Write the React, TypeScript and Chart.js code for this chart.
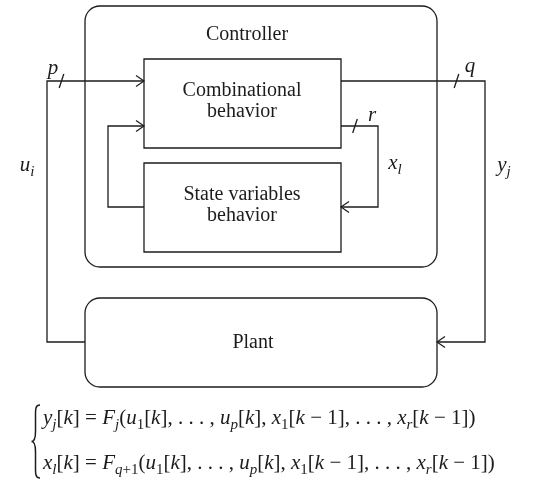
import React, { useEffect, useRef } from "react";
import { Chart, registerables } from "chart.js";

Chart.register(...registerables);

const W = 543;
const H = 481;
const INK = "#1c1c1c";
const FONT = "'Liberation Serif', 'DejaVu Serif', serif";

// Blocks
const boxNames = ["Controller", "Combinational behavior", "State variables behavior", "Plant"];
const boxX0 = [85, 144, 144, 85];
const boxY0 = [6, 59, 163, 298];
const boxX1 = [437, 341, 341, 437];
const boxY1 = [267, 148, 252, 387];
const boxRadius = [15, 0, 0, 15];
const boxLines = [["Controller"], ["Combinational", "behavior"], ["State variables", "behavior"], ["Plant"]];
const boxLabelX = [247, 242, 242, 253];
const boxLabelY = [35, 91, 195, 343];

// Signal wires (polyline vertices), arrow at the end
const wireU = [{ x: 85, y: 342 }, { x: 47, y: 342 }, { x: 47, y: 81 }, { x: 144, y: 81 }];
const wireY = [{ x: 341, y: 81 }, { x: 485, y: 81 }, { x: 485, y: 342 }, { x: 437, y: 342 }];
const wireX = [{ x: 341, y: 126 }, { x: 378, y: 126 }, { x: 378, y: 207 }, { x: 341, y: 207 }];
const wireFb = [{ x: 144, y: 207 }, { x: 108, y: 207 }, { x: 108, y: 126 }, { x: 144, y: 126 }];
const wires = [wireU, wireY, wireX, wireFb];

// Bus width slashes
const slashX = [61.5, 456.5, 355];
const slashY = [81, 81, 126];

// Signal labels: main + subscript
const sigMain = ["p", "q", "r", "x", "u", "y"];
const sigSub = ["", "", "", "l", "i", "j"];
const sigX = [53, 470, 372, 395, 27, 504];
const sigY = [69, 67, 116, 164, 166, 166];

// Equations as runs: r = roman, i = italic, s = italic subscript, t = roman subscript
type Run = [string, string];
const eq1: Run[] = [
  ["y", "i"], ["j", "s"], ["[", "r"], ["k", "i"], ["] = ", "r"], ["F", "i"], ["j", "s"], ["(", "r"],
  ["u", "i"], ["1", "t"], ["[", "r"], ["k", "i"], ["], . . . , ", "r"],
  ["u", "i"], ["p", "s"], ["[", "r"], ["k", "i"], ["], ", "r"],
  ["x", "i"], ["1", "t"], ["[", "r"], ["k", "i"], [" \u2212 1], . . . , ", "r"],
  ["x", "i"], ["r", "s"], ["[", "r"], ["k", "i"], [" \u2212 1])", "r"],
];
const eq2: Run[] = [
  ["x", "i"], ["l", "s"], ["[", "r"], ["k", "i"], ["] = ", "r"], ["F", "i"], ["q", "s"], ["+1", "t"], ["(", "r"],
  ["u", "i"], ["1", "t"], ["[", "r"], ["k", "i"], ["], . . . , ", "r"],
  ["u", "i"], ["p", "s"], ["[", "r"], ["k", "i"], ["], ", "r"],
  ["x", "i"], ["1", "t"], ["[", "r"], ["k", "i"], [" \u2212 1], . . . , ", "r"],
  ["x", "i"], ["r", "s"], ["[", "r"], ["k", "i"], [" \u2212 1])", "r"],
];
const equations = [eq1, eq2];
const eqX = [43, 43];
const eqY = [418, 463];

function runFont(kind: string, size: number) {
  const sub = kind === "s" || kind === "t";
  const it = kind === "i" || kind === "s";
  return `${it ? "italic " : ""}${sub ? Math.round(size * 0.72) : size}px ${FONT}`;
}

function drawRuns(ctx: CanvasRenderingContext2D, runs: Run[], x: number, y: number, size: number) {
  let cx = x;
  ctx.textAlign = "left";
  ctx.textBaseline = "alphabetic";
  for (const [t, k] of runs) {
    ctx.font = runFont(k, size);
    const dy = k === "s" || k === "t" ? size * 0.22 : 0;
    ctx.fillText(t, cx, y + dy);
    cx += ctx.measureText(t).width;
  }
}

const diagramPlugin = {
  id: "diagram",
  afterDatasetsDraw(chart: any) {
    const ctx: CanvasRenderingContext2D = chart.ctx;
    const xs = chart.scales.x;
    const ys = chart.scales.y;
    const px = (v: number) => xs.getPixelForValue(v);
    const py = (v: number) => ys.getPixelForValue(v);
    ctx.save();
    ctx.strokeStyle = INK;
    ctx.fillStyle = INK;
    ctx.lineWidth = 1.3;

    // boxes
    for (let i = 0; i < boxNames.length; i++) {
      const x0 = px(boxX0[i]), y0 = py(boxY0[i]), x1 = px(boxX1[i]), y1 = py(boxY1[i]);
      ctx.beginPath();
      if (boxRadius[i] > 0) {
        (ctx as any).roundRect(x0, y0, x1 - x0, y1 - y0, boxRadius[i]);
      } else {
        ctx.rect(x0, y0, x1 - x0, y1 - y0);
      }
      ctx.stroke();
      ctx.textAlign = "center";
      ctx.textBaseline = "middle";
      ctx.font = `20px ${FONT}`;
      boxLines[i].forEach((ln, j) => {
        ctx.fillText(ln, px(boxLabelX[i]), py(boxLabelY[i] + j * 21));
      });
    }

    // arrow heads
    ctx.lineWidth = 1.2;
    for (const w of wires) {
      const a = w[w.length - 2], b = w[w.length - 1];
      const ax = px(a.x), ay = py(a.y), bx = px(b.x), by = py(b.y);
      const ang = Math.atan2(by - ay, bx - ax);
      const L = 8, S = 5.5;
      ctx.beginPath();
      ctx.moveTo(bx - L * Math.cos(ang) - S * Math.sin(ang), by - L * Math.sin(ang) + S * Math.cos(ang));
      ctx.lineTo(bx, by);
      ctx.lineTo(bx - L * Math.cos(ang) + S * Math.sin(ang), by - L * Math.sin(ang) - S * Math.cos(ang));
      ctx.stroke();
    }

    // slashes
    ctx.lineWidth = 1.3;
    for (let i = 0; i < slashX.length; i++) {
      const cx = px(slashX[i]), cy = py(slashY[i]);
      ctx.beginPath();
      ctx.moveTo(cx - 2.3, cy + 7);
      ctx.lineTo(cx + 2.3, cy - 7);
      ctx.stroke();
    }

    // signal labels
    for (let i = 0; i < sigMain.length; i++) {
      ctx.font = `italic 21px ${FONT}`;
      const mw = ctx.measureText(sigMain[i]).width;
      ctx.font = `italic 15px ${FONT}`;
      const sw = sigSub[i] ? ctx.measureText(sigSub[i]).width : 0;
      const total = mw + sw;
      const x0 = px(sigX[i]) - total / 2;
      const y0 = py(sigY[i]) + 5;
      drawRuns(ctx, [[sigMain[i], "i"], ...(sigSub[i] ? [[sigSub[i], "s"] as Run] : [])], x0, y0, 21);
    }

    // equations
    for (let i = 0; i < equations.length; i++) {
      drawRuns(ctx, equations[i], px(eqX[i]), py(eqY[i]) + 6, 21);
    }

    // curly brace
    const bx = px(40), top = py(405), bot = py(478), mid = py(441.5), tip = px(31.5);
    ctx.lineWidth = 1.5;
    ctx.beginPath();
    ctx.moveTo(bx, top);
    ctx.bezierCurveTo(bx - 4.5, top, bx - 4.5, top + 4, bx - 4.5, top + 10);
    ctx.lineTo(bx - 4.5, mid - 10);
    ctx.bezierCurveTo(bx - 4.5, mid - 3, tip + 2, mid, tip, mid);
    ctx.bezierCurveTo(tip + 2, mid, bx - 4.5, mid + 3, bx - 4.5, mid + 10);
    ctx.lineTo(bx - 4.5, bot - 10);
    ctx.bezierCurveTo(bx - 4.5, bot - 4, bx - 4.5, bot, bx, bot);
    ctx.stroke();

    ctx.restore();
  },
};

export default function App() {
  const ref = useRef<HTMLCanvasElement | null>(null);
  useEffect(() => {
    document.body.style.margin = "0";
    const canvas = ref.current;
    if (!canvas) return;
    const chart = new Chart(canvas, {
      type: "scatter",
      data: {
        datasets: wires.map((w) => ({
          data: w,
          showLine: true,
          borderColor: INK,
          borderWidth: 1.3,
          pointRadius: 0,
          fill: false,
          tension: 0,
        })),
      },
      options: {
        responsive: false,
        animation: false,
        events: [],
        layout: { padding: 0 },
        plugins: { legend: { display: false }, tooltip: { enabled: false } },
        scales: {
          x: { type: "linear", min: 0, max: W, display: false },
          y: { type: "linear", min: 0, max: H, reverse: true, display: false },
        },
      },
      plugins: [diagramPlugin],
    } as any);
    return () => chart.destroy();
  }, []);
  return (
    <div style={{ width: W, height: H, background: "#fff" }}>
      <canvas ref={ref} width={W} height={H} />
    </div>
  );
}
